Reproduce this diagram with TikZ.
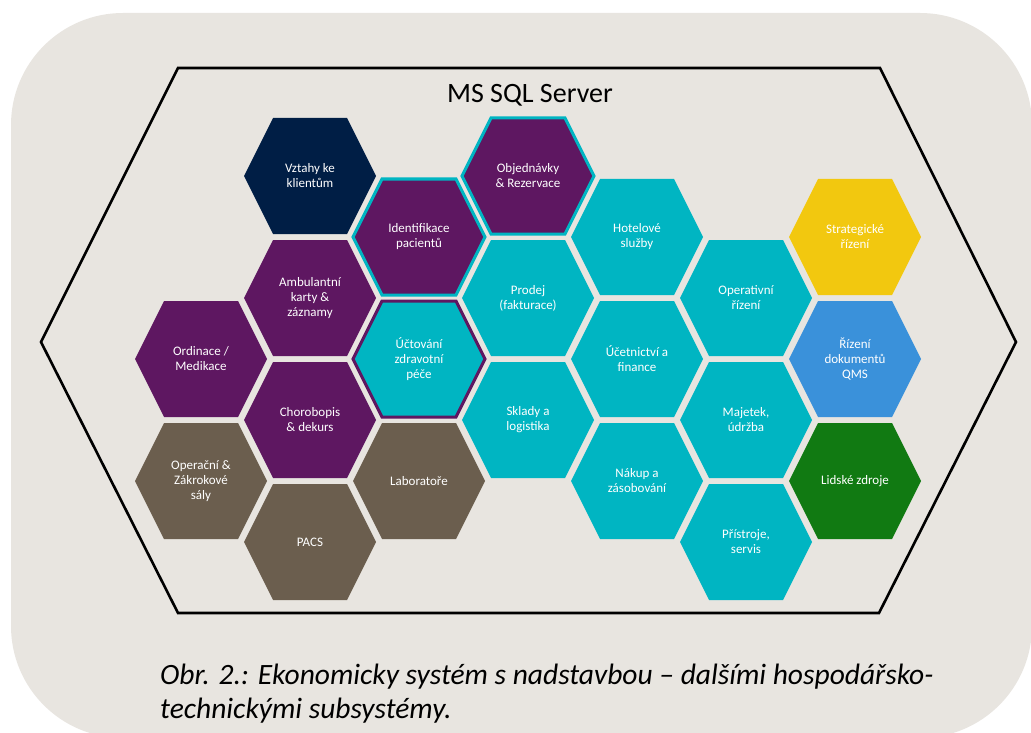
\documentclass[tikz,border=0pt]{standalone}
\usepackage{fontspec}
\setmainfont{Carlito}
\definecolor{bggray}{HTML}{E8E5E0}
\definecolor{navyhex}{HTML}{001E45}
\definecolor{purplehex}{HTML}{5E1761}
\definecolor{cyanhex}{HTML}{00B5C2}
\definecolor{taupehex}{HTML}{6B5E4E}
\definecolor{yellowhex}{HTML}{F2C80F}
\definecolor{bluehex}{HTML}{3A91DA}
\definecolor{greenhex}{HTML}{117A12}
\tikzset{
  hexcell/.pic={\path[pic actions] (-66,0) -- (-37,-58) -- (37,-58) -- (66,0) -- (37,58) -- (-37,58) -- cycle;},
  hexlabel/.style={text=white, align=center, font=\fontsize{13}{15}\selectfont},
  rimline/.style={line width=3pt, line join=miter}
}
\begin{document}
\begin{tikzpicture}[x=1pt,y=-1pt]
\tikzstyle{every node}+=[inner sep=0pt]
\useasboundingbox (0,0) rectangle (1031,733);
\fill [white] (0,0) rectangle (1031,733);
\fill [bggray, rounded corners=112pt] (11,13) rectangle (1032,738);
\draw [black, line width=2.6pt, line join=miter] (178,68) -- (880,68) -- (1016,342) -- (879,613) -- (178,613) -- (41,342) -- cycle;
\node [anchor=base, font=\fontsize{28}{32}\selectfont] (server) at (530,103) {MS SQL Server};
\pic [fill=purplehex] at (201,359) {hexcell};
\node [hexlabel] (ordinace) at (201,359) {Ordinace /\\Medikace};
\pic [fill=taupehex] at (201,481) {hexcell};
\node [hexlabel] (operacni) at (201,481) {Operační \&\\Zákrokové\\sály};
\pic [fill=navyhex] at (310,176) {hexcell};
\node [hexlabel] (vztahy) at (310,176) {Vztahy ke\\klientům};
\pic [fill=purplehex] at (310,298) {hexcell};
\node [hexlabel] (ambulantni) at (310,298) {Ambulantní\\karty \&\\záznamy};
\pic [fill=purplehex] at (310,420) {hexcell};
\node [hexlabel] (chorobopis) at (310,420) {Chorobopis\\\& dekurs};
\pic [fill=taupehex] at (310,542) {hexcell};
\node [hexlabel] (pacs) at (310,542) {PACS};
\pic [fill=purplehex, draw=cyanhex, rimline] at (419,237) {hexcell};
\node [hexlabel] (identifikace) at (419,237) {Identifikace\\pacientů};
\pic [fill=cyanhex, draw=purplehex, rimline] at (419,359) {hexcell};
\node [hexlabel] (uctovani) at (419,359) {Účtování\\zdravotní\\péče};
\pic [fill=taupehex] at (419,481) {hexcell};
\node [hexlabel] (laboratore) at (419,481) {Laboratoře};
\pic [fill=purplehex, draw=cyanhex, rimline] at (528,176) {hexcell};
\node [hexlabel] (objednavky) at (528,176) {Objednávky\\\& Rezervace};
\pic [fill=cyanhex] at (528,298) {hexcell};
\node [hexlabel] (prodej) at (528,298) {Prodej\\(fakturace)};
\pic [fill=cyanhex] at (528,420) {hexcell};
\node [hexlabel] (sklady) at (528,420) {Sklady a\\logistika};
\pic [fill=cyanhex] at (637,237) {hexcell};
\node [hexlabel] (hotelove) at (637,237) {Hotelové\\služby};
\pic [fill=cyanhex] at (637,359) {hexcell};
\node [hexlabel] (ucetnictvi) at (637,359) {Účetnictví a\\finance};
\pic [fill=cyanhex] at (637,481) {hexcell};
\node [hexlabel] (nakup) at (637,481) {Nákup a\\zásobování};
\pic [fill=cyanhex] at (746,298) {hexcell};
\node [hexlabel] (operativni) at (746,298) {Operativní\\řízení};
\pic [fill=cyanhex] at (746,420) {hexcell};
\node [hexlabel] (majetek) at (746,420) {Majetek,\\údržba};
\pic [fill=cyanhex] at (746,542) {hexcell};
\node [hexlabel] (pristroje) at (746,542) {Přístroje,\\servis};
\pic [fill=yellowhex] at (855,237) {hexcell};
\node [hexlabel] (strategicke) at (855,237) {Strategické\\řízení};
\pic [fill=bluehex] at (855,359) {hexcell};
\node [hexlabel] (rizeni) at (855,359) {Řízení\\dokumentů\\QMS};
\pic [fill=greenhex] at (855,481) {hexcell};
\node [hexlabel] (lidske) at (855,481) {Lidské zdroje};
\node [anchor=base west, align=left, font=\fontsize{29.5}{34}\selectfont\itshape] (caption) at (160,718) {Obr. 2.: Ekonomicky systém s nadstavbou – dalšími hospodářsko-\\technickými subsystémy.};
\end{tikzpicture}
\end{document}
